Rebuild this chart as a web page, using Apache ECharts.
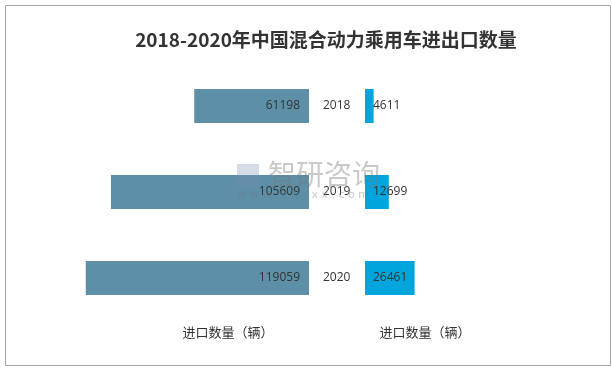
<!DOCTYPE html>
<html><head><meta charset="utf-8">
<script src="https://cdn.jsdelivr.net/npm/echarts@6/dist/echarts.min.js"></script>
<style>html,body{margin:0;padding:0;background:#fff}#c{width:612px;height:368px}</style>
</head><body><div id="c"></div>
<script>
const years = ['2018', '2019', '2020'];
const importValues = [61198, 105609, 119059];
const exportValues = [4611, 12699, 26461];
const titleText = '2018-2020年中国混合动力乘用车进出口数量';
const leftAxisName = '进口数量（辆）';
const rightAxisName = '进口数量（辆）';

const chart = echarts.init(document.getElementById('c'), null, {renderer: 'canvas'});
const font = '"Open Sans", "Noto Sans CJK SC", sans-serif';
chart.setOption({
  animation: false,
  backgroundColor: '#fff',
  title: [
    {text: titleText, left: 321, top: 25, textAlign: 'center',
     textStyle: {fontSize: 19, fontWeight: 'bold', color: '#333', fontFamily: '"Noto Sans CJK SC", sans-serif'}},
    {text: leftAxisName, left: 223, top: 321, textAlign: 'center',
     textStyle: {fontSize: 13, fontWeight: 'normal', color: '#333', fontFamily: '"Noto Sans CJK SC", sans-serif'}},
    {text: rightAxisName, left: 420, top: 321, textAlign: 'center',
     textStyle: {fontSize: 13, fontWeight: 'normal', color: '#333', fontFamily: '"Noto Sans CJK SC", sans-serif'}}
  ],
  graphic: [
    {type: 'rect', left: 3, top: 3, shape: {width: 605, height: 360}, style: {fill: 'none', stroke: '#a6a6a6', lineWidth: 1}, silent: true, z: 100},
    {type: 'text', left: 268, top: 160, z: 100, silent: true,
     style: {text: '智研咨询', font: '28px "Noto Sans CJK SC"', fill: 'rgba(120,120,120,0.4)'}},
    {type: 'text', left: 237, top: 190, z: 100, silent: true,
     style: {text: 'w w w . c h y x x . c o m', font: '11px "DejaVu Sans"', fill: 'rgba(110,120,140,0.4)'}},
    {type: 'rect', left: 237, top: 164, z: 100, silent: true, shape: {width: 22, height: 24}, style: {fill: 'rgba(120,140,180,0.3)'}}
  ],
  grid: [
    {left: 46.5, width: 262.5, top: 63, height: 258},
    {left: 365, width: 187.5, top: 63, height: 258}
  ],
  xAxis: [
    {gridIndex: 0, type: 'value', min: 0, max: 140000, inverse: true, show: false},
    {gridIndex: 1, type: 'value', min: 0, max: 100000, show: false}
  ],
  yAxis: [
    {gridIndex: 0, type: 'category', data: years, inverse: true, position: 'right',
     axisLine: {show: false}, axisTick: {show: false},
     axisLabel: {margin: 14, color: '#333', fontSize: 12, fontFamily: font}},
    {gridIndex: 1, type: 'category', data: years, inverse: true, show: false}
  ],
  series: [
    {type: 'bar', xAxisIndex: 0, yAxisIndex: 0, data: importValues, barWidth: 34,
     itemStyle: {color: '#5D90A7'},
     label: {show: true, position: 'insideRight', distance: 9, color: '#333', fontSize: 12, fontFamily: font}},
    {type: 'bar', xAxisIndex: 1, yAxisIndex: 1, data: exportValues, barWidth: 34,
     itemStyle: {color: '#00A5DD'},
     label: {show: true, position: 'insideLeft', distance: 8, color: '#333', fontSize: 12, fontFamily: font}}
  ]
});
</script></body></html>
